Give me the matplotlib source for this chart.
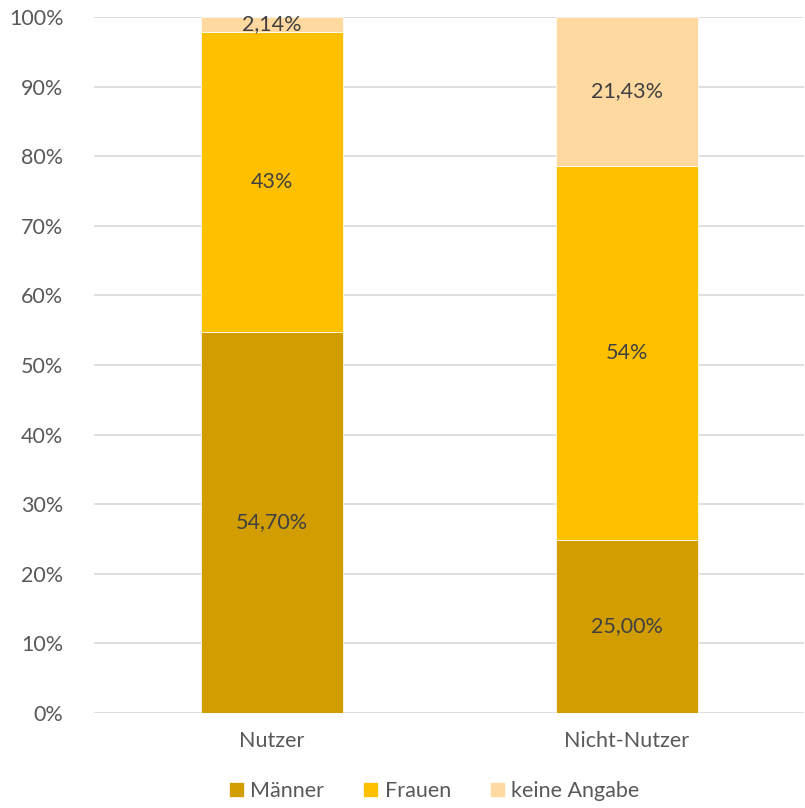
import matplotlib.pyplot as plt
import numpy as np

plt.rcParams['font.family'] = ['Lato', 'DejaVu Sans']

# Anteile in Prozent je Gruppe
gruppen = ["Nutzer", "Nicht-Nutzer"]
maenner = [54.70, 25.00]
frauen = [43, 54]
keine_angabe = [2.14, 21.43]

labels_maenner = ["54,70%", "25,00%"]
labels_frauen = ["43%", "54%"]
labels_keine = ["2,14%", "21,43%"]

serien = [("Männer", maenner, labels_maenner, "#D29D00"),
          ("Frauen", frauen, labels_frauen, "#FFC000"),
          ("keine Angabe", keine_angabe, labels_keine, "#FFD9A0")]

# 100%-gestapelt: auf Summe je Gruppe normieren
summe = np.array(maenner) + np.array(frauen) + np.array(keine_angabe)

fig = plt.figure(figsize=(8.05, 8.08), dpi=100)
ax = fig.add_axes([94/805, 95/808, 710/805, 696/808])

x = np.arange(len(gruppen))
unten = np.zeros(len(gruppen))
for name, werte, texte, farbe in serien:
    h = np.array(werte) / summe * 100
    ax.bar(x, h, width=0.4, bottom=unten, color=farbe, label=name,
           edgecolor="white", linewidth=0.5, zorder=3)
    for i in range(len(x)):
        ax.text(x[i], unten[i] + h[i] / 2, texte[i], ha="center", va="center",
                fontsize=15.5, color="#404040", zorder=4)
    unten += h

ax.set_xlim(-0.5, 1.5)
ax.set_ylim(0, 100)
ax.set_yticks(np.arange(0, 101, 10))
ax.set_yticklabels([f"{v}%" for v in range(0, 101, 10)])
ax.set_xticks(x)
ax.set_xticklabels(gruppen)
ax.yaxis.grid(True, color="#D9D9D9", linewidth=1.2, zorder=0)
ax.tick_params(length=0, labelsize=15.5, labelcolor="#595959")
ax.tick_params(axis="y", pad=22)
ax.tick_params(axis="x", pad=13)
for s in ax.spines.values():
    s.set_visible(False)

ax.legend(loc="upper center", bbox_to_anchor=(0.479, -0.076), ncol=3, frameon=False,
          fontsize=15.5, labelcolor="#595959", handlelength=0.7, handleheight=0.7,
          handletextpad=0.3, columnspacing=1.8, borderpad=0.2)

fig.savefig("out.png", dpi=100)
